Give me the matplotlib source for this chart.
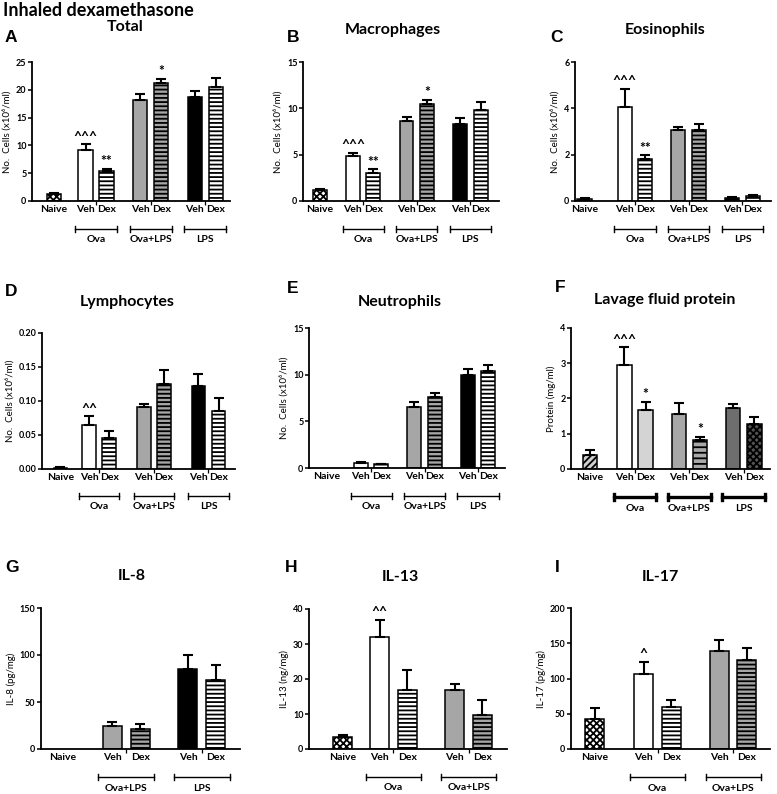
import matplotlib.pyplot as plt
import numpy as np

plt.rcParams['font.family'] = ['Lato', 'DejaVu Sans']
plt.rcParams['font.weight'] = 'bold'
plt.rcParams['hatch.linewidth'] = 1.3

# ---- data ----
labels7 = ['Naive', 'Veh', 'Dex', 'Veh', 'Dex', 'Veh', 'Dex']
labels5 = ['Naive', 'Veh', 'Dex', 'Veh', 'Dex']
groups_bal = ['Ova', 'Ova+LPS', 'LPS']

total_mean = [1.3, 9.1, 5.4, 18.2, 21.3, 18.7, 20.5]
total_err = [0.1, 1.1, 0.4, 1.0, 0.7, 1.0, 1.6]
total_marks = ['', '^^^', '**', '', '*', '', '']

macro_mean = [1.2, 4.85, 3.05, 8.6, 10.5, 8.35, 9.8]
macro_err = [0.1, 0.35, 0.35, 0.5, 0.45, 0.65, 0.9]
macro_marks = ['', '^^^', '**', '', '*', '', '']

eos_mean = [0.07, 4.05, 1.8, 3.08, 3.05, 0.15, 0.22]
eos_err = [0.04, 0.8, 0.18, 0.1, 0.28, 0.04, 0.05]
eos_marks = ['', '^^^', '**', '', '', '', '']

lymph_mean = [0.002, 0.065, 0.045, 0.091, 0.125, 0.122, 0.085]
lymph_err = [0.001, 0.013, 0.011, 0.005, 0.02, 0.017, 0.019]
lymph_marks = ['', '^^', '', '', '', '', '']

neut_mean = [0.0, 0.5, 0.4, 6.5, 7.6, 10.0, 10.35]
neut_err = [0.0, 0.1, 0.08, 0.55, 0.4, 0.65, 0.65]
neut_marks = ['', '', '', '', '', '', '']

prot_mean = [0.4, 2.95, 1.66, 1.57, 0.82, 1.74, 1.29]
prot_err = [0.15, 0.5, 0.25, 0.29, 0.1, 0.1, 0.19]
prot_marks = ['', '^^^', '*', '', '*', '', '']

il8_mean = [0.0, 25, 21, 85, 73]
il8_err = [0.0, 4, 6, 14.5, 16]
il8_marks = ['', '', '', '', '']
il8_groups = ['Ova+LPS', 'LPS']

il13_mean = [3.5, 32, 17, 16.9, 9.7]
il13_err = [0.4, 5, 5.5, 1.8, 4.3]
il13_marks = ['', '^^', '', '', '']

il17_mean = [42, 107, 60, 139, 126]
il17_err = [16, 17, 10, 16, 17]
il17_marks = ['', '^', '', '', '']
cyto_groups = ['Ova', 'Ova+LPS']

# ---- bar styles: (face, hatch) ----
CHECK = ('white', 'xxxxx')
WHITE = ('white', None)
WSTRIPE = ('white', '----')
GRAY = ('#a6a6a6', None)
GSTRIPE = ('#a6a6a6', '----')
BLACK = ('black', None)
style_bal = [CHECK, WHITE, WSTRIPE, GRAY, GSTRIPE, BLACK, WSTRIPE]
style_prot = [('#cfcfcf', '/////'), WHITE, ('#d4d4d4', None), ('#a8a8a8', None),
              ('#a8a8a8', '---'), ('#6e6e6e', None), ('#555555', 'xxxxx')]
style_il8 = [WHITE, GRAY, GSTRIPE, BLACK, WSTRIPE]
style_cyto = [CHECK, WHITE, WSTRIPE, GRAY, GSTRIPE]

W, H = 777, 794
fig = plt.figure(figsize=(W / 100, H / 100), dpi=100)


def add_axes(l, t, r, b):
    return fig.add_axes([l / W, 1 - b / H, (r - l) / W, (b - t) / H])


def fig_text(x, y, s, **kw):
    fig.text(x / W, 1 - y / H, s, **kw)


def draw_panel(ax, means, errs, styles, marks, labels, groups, g1, g2,
               pad_l, pad_r, ymax, yticks, ylabel, fmt='{:g}', blw=1.0):
    n = len(means)
    x = [0.0]
    start = g1
    for k in range((n - 1) // 2):
        x += [start, start + 1]
        start += g2
    x = np.array(x)
    means = np.array(means)
    errs = np.array(errs)
    for xi, m, (fc, hatch) in zip(x, means, styles):
        if m <= 0:
            continue
        ax.bar(xi, m, width=0.68, color=fc, edgecolor='black', linewidth=1.1,
               hatch=hatch, zorder=2)
    show = means > 0
    ax.errorbar(x[show], means[show], yerr=[np.zeros(show.sum()), errs[show]],
                fmt='none', ecolor='black', elinewidth=1.5, capsize=3.5,
                capthick=1.5, zorder=3)
    for xi, m, e, t in zip(x, means, errs, marks):
        if t:
            ax.text(xi, m + e + ymax * 0.01, t, ha='center', va='bottom',
                    fontsize=10, fontweight='bold')
    ax.set_xlim(-pad_l, x[-1] + pad_r)
    ax.set_ylim(0, ymax)
    ax.set_yticks(yticks)
    ax.set_yticklabels([fmt.format(v) for v in yticks], fontsize=6.5)
    ax.set_xticks(x)
    ax.set_xticklabels(labels, fontsize=7.5)
    ax.tick_params(axis='x', length=0, pad=3)
    ax.tick_params(axis='y', length=3, width=1.1, pad=1)
    centers = [0.0] + [(x[1 + 2 * k] + x[2 + 2 * k]) / 2 for k in range((n - 1) // 2)]
    ax.set_xticks(centers, minor=True)
    ax.tick_params(axis='x', which='minor', length=3, width=0.9)
    for s in ['top', 'right']:
        ax.spines[s].set_visible(False)
    for s in ['left', 'bottom']:
        ax.spines[s].set_linewidth(1.3)
    ax.set_ylabel(ylabel, fontsize=7, labelpad=3)
    tr = ax.get_xaxis_transform()
    for k, g in enumerate(groups):
        a = x[1 + 2 * k] - 0.5
        b = x[2 + 2 * k] + 0.5
        ax.plot([a, b], [-0.2, -0.2], color='black', lw=blw, transform=tr,
                clip_on=False)
        for e in (a, b):
            ax.plot([e, e], [-0.18, -0.22], color='black', lw=blw, transform=tr,
                    clip_on=False)
        ax.text((a + b) / 2, -0.245, g, ha='center', va='top', fontsize=7.5,
                transform=tr)


cells = 'No.  Cells (x10\u2076/ml)'

ax = add_axes(32, 62, 230, 201)
draw_panel(ax, total_mean, total_err, style_bal, total_marks, labels7, groups_bal,
           1.5, 2.6, 1.05, 0.67, 25, [0, 5, 10, 15, 20, 25], cells)
ax = add_axes(303, 62, 499, 201)
draw_panel(ax, macro_mean, macro_err, style_bal, macro_marks, labels7, groups_bal,
           1.6, 2.62, 0.84, 0.9, 15, [0, 5, 10, 15], cells)
ax = add_axes(575, 62, 771, 201)
draw_panel(ax, eos_mean, eos_err, style_bal, eos_marks, labels7, groups_bal,
           1.94, 2.6, 0.46, 0.88, 6, [0, 2, 4, 6], cells)
ax = add_axes(42, 333, 235, 469)
draw_panel(ax, lymph_mean, lymph_err, style_bal, lymph_marks, labels7, groups_bal,
           1.43, 2.72, 0.92, 0.82, 0.20, [0, 0.05, 0.10, 0.15, 0.20], cells,
           fmt='{:.2f}')
ax = add_axes(309, 328, 505, 468)
draw_panel(ax, neut_mean, neut_err, style_bal, neut_marks, labels7, groups_bal,
           1.66, 2.6, 0.86, 0.81, 15, [0, 5, 10, 15], cells)
ax = add_axes(571, 328, 770, 469)
draw_panel(ax, prot_mean, prot_err, style_prot, prot_marks, labels7, groups_bal,
           1.63, 2.56, 0.89, 0.74, 4, [0, 1, 2, 3, 4], 'Protein (mg/ml)', blw=2.4)
ax = add_axes(41, 608, 240, 749)
draw_panel(ax, il8_mean, il8_err, style_il8, il8_marks, labels5, il8_groups,
           1.75, 2.71, 0.79, 0.86, 150, [0, 50, 100, 150], 'IL-8 (pg/mg)')
ax = add_axes(309, 609, 507, 749)
draw_panel(ax, il13_mean, il13_err, style_cyto, il13_marks, labels5, cyto_groups,
           1.35, 2.73, 1.22, 0.9, 40, [0, 10, 20, 30, 40], 'IL-13 (ng/mg)')
ax = add_axes(571, 608, 770, 749)
draw_panel(ax, il17_mean, il17_err, style_cyto, il17_marks, labels5, cyto_groups,
           1.78, 2.74, 0.86, 0.84, 200, [0, 50, 100, 150, 200], 'IL-17 (pg/mg)')

# titles and panel letters
fig_text(3, 2, 'Inhaled dexamethasone', fontsize=13, fontweight='bold', va='top')
titles = [('Total', 125, 27), ('Macrophages', 393, 30), ('Eosinophils', 665, 30),
          ('Lymphocytes', 127, 302), ('Neutrophils', 400, 302),
          ('Lavage fluid protein', 665, 300), ('IL-8', 132, 576),
          ('IL-13', 400, 577), ('IL-17', 660, 577)]
for t, x, y in titles:
    fig_text(x, y, t, fontsize=11.5, fontweight='bold', ha='center', va='center')
letters = [('A', 5, 38), ('B', 287, 37), ('C', 550, 37), ('D', 5, 291),
           ('E', 287, 289), ('F', 555, 288), ('G', 5, 568), ('H', 285, 568),
           ('I', 555, 568)]
for t, x, y in letters:
    fig_text(x, y, t, fontsize=12.5, fontweight='bold', va='center',
             family='Liberation Sans')

fig.savefig('out.png', dpi=100)
